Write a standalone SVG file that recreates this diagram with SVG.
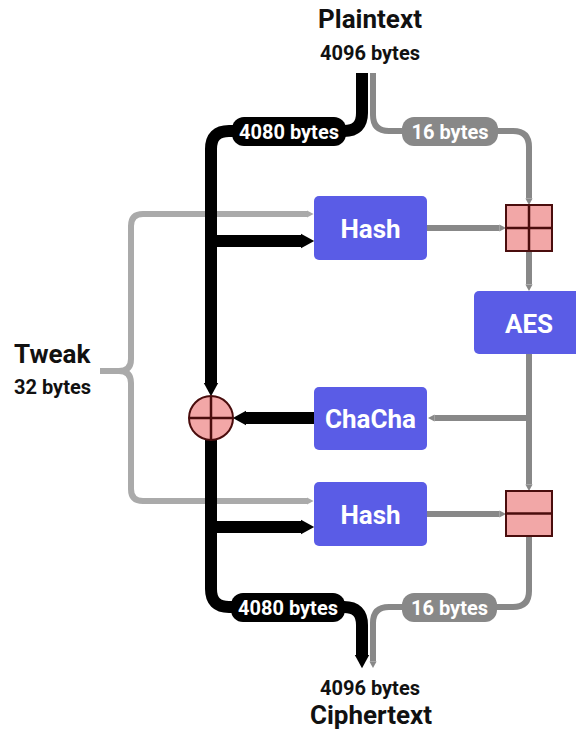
<svg xmlns="http://www.w3.org/2000/svg" width="576" height="730" viewBox="0 0 576 730">
<defs>
<style>
.t{font-family:Roboto,"Liberation Sans",sans-serif;font-weight:bold;text-anchor:middle;fill:#111}
.title{font-size:26px}
.sz{font-size:20px}
.lbl{font-size:20px;fill:#fff}
.nd{font-size:26px;fill:#fff}
.node{fill:#5a5ce6}
.blk{fill:none;stroke:#000;stroke-width:12}
.gry{fill:none;stroke:#888;stroke-width:6}
.twk{fill:none;stroke:#aaa;stroke-width:6}
.op{fill:#f2a7a7;stroke:#4a0d0d;stroke-width:2}
.opl{stroke:#4a0d0d;stroke-width:2.5}
</style>
<marker id="ab" markerUnits="strokeWidth" markerWidth="2" markerHeight="2" viewBox="0 -1 2 2" refX="0" refY="0" orient="auto" overflow="visible"><path d="M0,-0.6 L1.1,0 L0,0.6 z" fill="#000"/></marker>
<marker id="ag" markerUnits="strokeWidth" markerWidth="2" markerHeight="2" viewBox="0 -1 2 2" refX="0" refY="0" orient="auto" overflow="visible"><path d="M0,-0.6 L1.1,0 L0,0.6 z" fill="#888"/></marker>
<marker id="at" markerUnits="strokeWidth" markerWidth="2" markerHeight="2" viewBox="0 -1 2 2" refX="0" refY="0" orient="auto" overflow="visible"><path d="M0,-0.6 L1.1,0 L0,0.6 z" fill="#aaa"/></marker>
</defs>

<g id="connectors">
<path class="twk" d="M100,371 H119 Q131,371 131,359 V226 Q131,214 143,214 H307" marker-end="url(#at)"/>
<path class="twk" d="M119,371 Q131,371 131,383 V489 Q131,501 143,501 H307" marker-end="url(#at)"/>
<path class="gry" d="M373,73 V115 Q373,131 389,131 H513 Q529,131 529,147 V198.4" marker-end="url(#ag)"/>
<path class="gry" d="M427,228 H499.4" marker-end="url(#ag)"/>
<path class="gry" d="M529,251 V284.4" marker-end="url(#ag)"/>
<path class="gry" d="M529,354 V484.4" marker-end="url(#ag)"/>
<path class="gry" d="M529,418 H434.6" marker-end="url(#ag)"/>
<path class="gry" d="M427,514 H499.4" marker-end="url(#ag)"/>
<path class="gry" d="M529,536 V591 Q529,607 513,607 H389 Q373,607 373,623 V661.4" marker-end="url(#ag)"/>
<path class="blk" d="M362,73 V113 Q362,131 344,131 H229 Q211,131 211,149 V383" marker-end="url(#ab)"/>
<path class="blk" d="M211,241 H301" marker-end="url(#ab)"/>
<path class="blk" d="M211,527 H301" marker-end="url(#ab)"/>
<path class="blk" d="M314,418 H246" marker-end="url(#ab)"/>
<path class="blk" d="M211,440 V589 Q211,607 229,607 H344 Q362,607 362,625 V655" marker-end="url(#ab)"/>
<rect x="232" y="117" width="114" height="29" rx="12" fill="#000"/>
<text class="t lbl" x="289" y="138.5">4080 bytes</text>
<rect x="402" y="117" width="96" height="29" rx="12" fill="#888"/>
<text class="t lbl" x="450" y="138.5">16 bytes</text>
<rect x="231" y="593" width="114" height="29" rx="12" fill="#000"/>
<text class="t lbl" x="288" y="614.5">4080 bytes</text>
<rect x="402" y="593" width="95" height="29" rx="12" fill="#888"/>
<text class="t lbl" x="449.5" y="614.5">16 bytes</text>
</g>

<g id="plaintext">
<text class="t title" x="370" y="28">Plaintext</text>
<text class="t sz" x="370" y="60">4096 bytes</text>
</g>

<g id="ciphertext">
<text class="t sz" x="370" y="695">4096 bytes</text>
<text class="t title" x="371" y="724">Ciphertext</text>
</g>

<g id="tweak">
<text class="t title" x="14" y="363" style="text-anchor:start">Tweak</text>
<text class="t sz" x="14" y="394" style="text-anchor:start">32 bytes</text>
</g>

<g id="hash1">
<rect class="node" x="314" y="196" width="113" height="64" rx="5"/>
<text class="t nd" x="370.5" y="237.5">Hash</text>
</g>

<g id="chacha">
<rect class="node" x="314" y="387" width="113" height="63" rx="5"/>
<text class="t nd" x="370.5" y="427.5">ChaCha</text>
</g>

<g id="hash2">
<rect class="node" x="314" y="482" width="113" height="64" rx="5"/>
<text class="t nd" x="370.5" y="523.5">Hash</text>
</g>

<g id="aes">
<rect class="node" x="474" y="291" width="112" height="63" rx="5"/>
<text class="t nd" x="529" y="332.5">AES</text>
</g>

<g id="add1">
<rect class="op" x="506" y="205" width="46" height="46"/>
<line class="opl" x1="529" y1="205" x2="529" y2="251"/>
<line class="opl" x1="506" y1="228" x2="552" y2="228"/>
</g>

<g id="sub2">
<rect class="op" x="506" y="491" width="46" height="45"/>
<line class="opl" x1="506" y1="513.5" x2="552" y2="513.5"/>
</g>

<g id="xor">
<circle class="op" cx="211" cy="418" r="22"/>
<line class="opl" x1="211" y1="396" x2="211" y2="440"/>
<line class="opl" x1="189" y1="418" x2="233" y2="418"/>
</g>
</svg>
